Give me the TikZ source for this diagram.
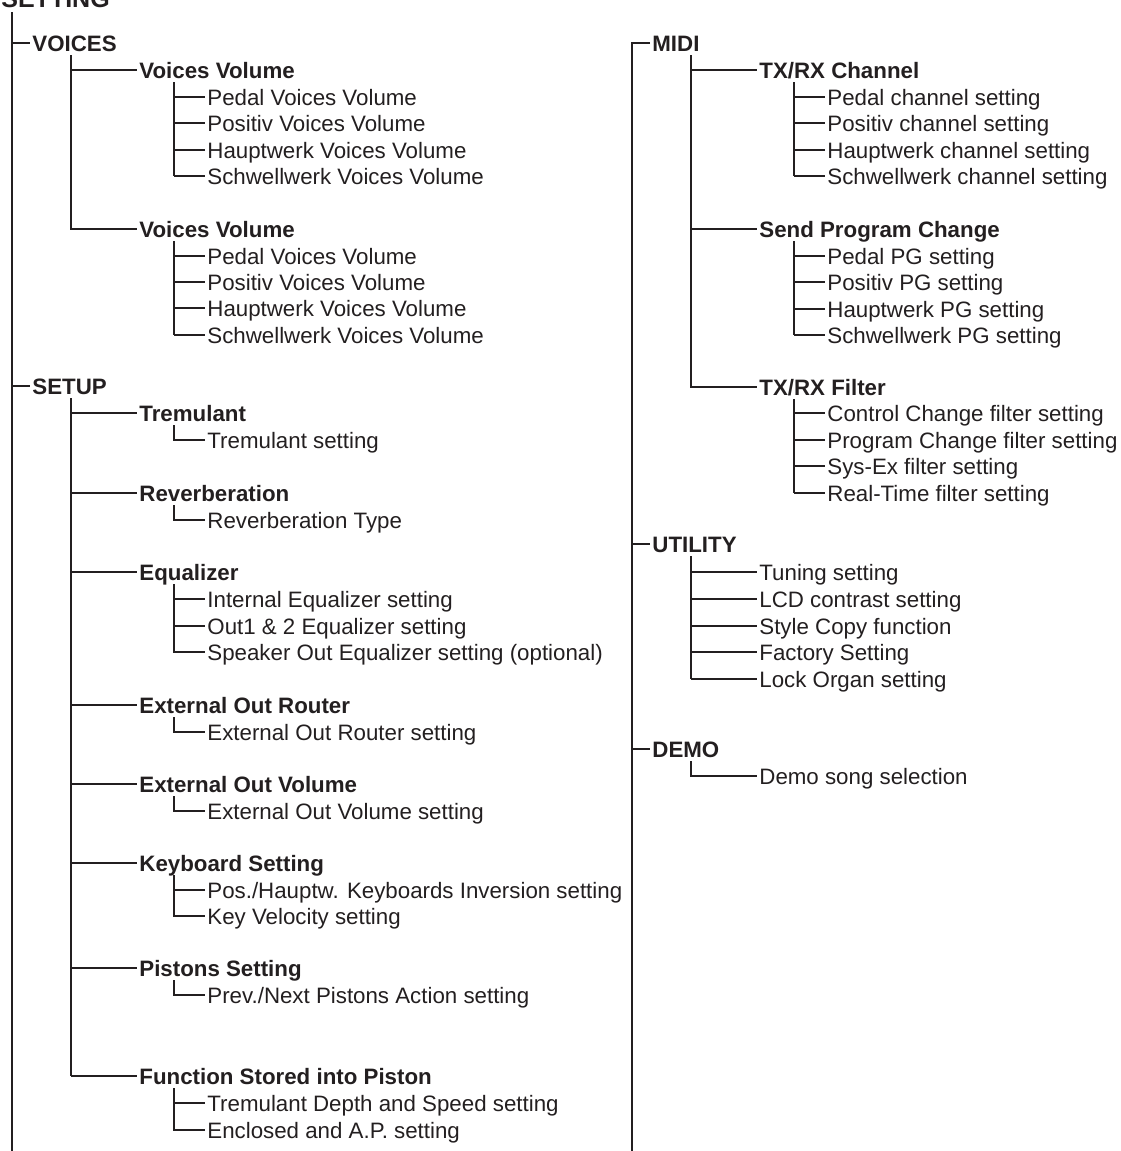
\documentclass[tikz,border=0pt]{standalone}
\usepackage{fontspec}
\setmainfont{Liberation Sans}
\usepackage{xcolor}
\definecolor{ink}{HTML}{231F20}

\begin{document}
\begin{tikzpicture}[x=0.5pt,y=-0.5pt,
  line/.style={draw=ink,line width=0.75pt},
  item/.style={anchor=base west,inner xsep=1pt,inner ysep=0pt,text height=7.95pt,text depth=0pt,text=ink,font=\fontsize{11.15}{13}\selectfont},
  head/.style={item,font=\fontsize{11.15}{13}\selectfont\bfseries}]
\useasboundingbox (0,0) rectangle (1120,1151);
\clip (0,0) rectangle (1120,1151);

% left column
\node[head,font=\fontsize{12.5}{15}\selectfont\bfseries] (setting) at (-1,8) {SETTING};
\coordinate (ltop) at (12,12);
\coordinate (lbot) at (12,1151);
\draw[line] (ltop) -- (lbot);

\node[head] (voices) at (30,51) {VOICES};
\draw[line] (voices.west -| ltop) -- (voices.west);
\coordinate (voicesx) at ([xshift=20.5pt,yshift=-2pt]voices.south west);
\node[head] (vol1) at (137,78) {Voices Volume};
\node[head] (vol2) at (137,237) {Voices Volume};
\draw[line] (voicesx |- vol1.west) -- (vol1.west);
\draw[line] (voicesx) |- (vol2.west);

\coordinate (vol1x) at ([xshift=18.5pt,yshift=-2pt]vol1.south west);
\foreach \y/\n/\t in {105/vol1a/{Pedal Voices Volume},131/vol1b/{Positiv Voices Volume},158/vol1c/{Hauptwerk Voices Volume},184/vol1d/{Schwellwerk Voices Volume}}{
  \node[item] (\n) at (205,\y) {\t};
  \draw[line] (vol1x |- \n.west) -- (\n.west);
}
\draw[line] (vol1x) -- (vol1x |- vol1d.west);

\coordinate (vol2x) at ([xshift=18.5pt,yshift=-2pt]vol2.south west);
\foreach \y/\n/\t in {264/vol2a/{Pedal Voices Volume},290/vol2b/{Positiv Voices Volume},316/vol2c/{Hauptwerk Voices Volume},343/vol2d/{Schwellwerk Voices Volume}}{
  \node[item] (\n) at (205,\y) {\t};
  \draw[line] (vol2x |- \n.west) -- (\n.west);
}
\draw[line] (vol2x) -- (vol2x |- vol2d.west);

\node[head] (setup) at (30,394) {SETUP};
\draw[line] (setup.west -| ltop) -- (setup.west);
\coordinate (setupx) at ([xshift=20.5pt,yshift=-2pt]setup.south west);
\foreach \y/\n/\t in {421/trem/{Tremulant},501/reverb/{Reverberation},580/equal/{Equalizer},713/router/{External Out Router},792/extvol/{External Out Volume},871/keyb/{Keyboard Setting},976/pist/{Pistons Setting},1084/func/{Function Stored into Piston}}{
  \node[head] (\n) at (137,\y) {\t};
  \draw[line] (setupx |- \n.west) -- (\n.west);
}
\draw[line] (setupx) -- (setupx |- func.west);

\node[item] (tremset) at (205,448) {Tremulant setting};
\draw[line] ([xshift=18.5pt,yshift=-2pt]trem.south west) |- (tremset.west);
\node[item] (revtype) at (205,528) {Reverberation Type};
\draw[line] ([xshift=18.5pt,yshift=-2pt]reverb.south west) |- (revtype.west);

\coordinate (equalx) at ([xshift=18.5pt,yshift=-2pt]equal.south west);
\node[item] (eqa) at (205,607) {Internal Equalizer setting};
\node[item] (eqb) at (205,634) {Out1 \& 2 Equalizer setting};
\node[item] (eqc) at (205,660) {Speaker Out Equalizer setting (optional)};
\draw[line] (equalx |- eqa.west) -- (eqa.west);
\draw[line] (equalx |- eqb.west) -- (eqb.west);
\draw[line] (equalx) |- (eqc.west);

\node[item] (routerset) at (205,740) {External Out Router setting};
\draw[line] ([xshift=18.5pt,yshift=-2pt]router.south west) |- (routerset.west);
\node[item] (extvolset) at (205,819) {External Out Volume setting};
\draw[line] ([xshift=18.5pt,yshift=-2pt]extvol.south west) |- (extvolset.west);

\coordinate (keybx) at ([xshift=18.5pt,yshift=-2pt]keyb.south west);
\node[item] (keyba) at (205,898) {Pos./Hauptw. Keyboards Inversion setting};
\node[item] (keybb) at (205,924) {Key Velocity setting};
\draw[line] (keybx |- keyba.west) -- (keyba.west);
\draw[line] (keybx) |- (keybb.west);

\node[item] (pistset) at (205,1003) {Prev./Next Pistons Action setting};
\draw[line] ([xshift=18.5pt,yshift=-2pt]pist.south west) |- (pistset.west);

\coordinate (funcx) at ([xshift=18.5pt,yshift=-2pt]func.south west);
\node[item] (funca) at (205,1111) {Tremulant Depth and Speed setting};
\node[item] (funcb) at (205,1138) {Enclosed and A.P. setting};
\draw[line] (funcx |- funca.west) -- (funca.west);
\draw[line] (funcx) |- (funcb.west);

% right column
\coordinate (rbot) at (632,1151);
\node[head] (midi) at (650,51) {MIDI};
\draw[line] (midi.west) -| (rbot);
\coordinate (midix) at ([xshift=20.5pt,yshift=-2pt]midi.south west);
\node[head] (chan) at (757,78) {TX/RX Channel};
\node[head] (prog) at (757,237) {Send Program Change};
\node[head] (filt) at (757,395) {TX/RX Filter};
\draw[line] (midix |- chan.west) -- (chan.west);
\draw[line] (midix |- prog.west) -- (prog.west);
\draw[line] (midix) |- (filt.west);

\coordinate (chanx) at ([xshift=18.5pt,yshift=-2pt]chan.south west);
\foreach \y/\n/\t in {105/chana/{Pedal channel setting},131/chanb/{Positiv channel setting},158/chanc/{Hauptwerk channel setting},184/chand/{Schwellwerk channel setting}}{
  \node[item] (\n) at (825,\y) {\t};
  \draw[line] (chanx |- \n.west) -- (\n.west);
}
\draw[line] (chanx) -- (chanx |- chand.west);

\coordinate (progx) at ([xshift=18.5pt,yshift=-2pt]prog.south west);
\foreach \y/\n/\t in {264/proga/{Pedal PG setting},290/progb/{Positiv PG setting},317/progc/{Hauptwerk PG setting},343/progd/{Schwellwerk PG setting}}{
  \node[item] (\n) at (825,\y) {\t};
  \draw[line] (progx |- \n.west) -- (\n.west);
}
\draw[line] (progx) -- (progx |- progd.west);

\coordinate (filtx) at ([xshift=18.5pt,yshift=-2pt]filt.south west);
\foreach \y/\n/\t in {421/filta/{Control Change filter setting},448/filtb/{Program Change filter setting},474/filtc/{Sys-Ex filter setting},501/filtd/{Real-Time filter setting}}{
  \node[item] (\n) at (825,\y) {\t};
  \draw[line] (filtx |- \n.west) -- (\n.west);
}
\draw[line] (filtx) -- (filtx |- filtd.west);

\node[head] (util) at (650,552) {UTILITY};
\draw[line] (util.west -| rbot) -- (util.west);
\coordinate (utilx) at ([xshift=20.5pt,yshift=-2pt]util.south west);
\foreach \y/\n/\t in {580/utila/{Tuning setting},607/utilb/{LCD contrast setting},634/utilc/{Style Copy function},660/utild/{Factory Setting},687/utile/{Lock Organ setting}}{
  \node[item] (\n) at (757,\y) {\t};
  \draw[line] (utilx |- \n.west) -- (\n.west);
}
\draw[line] (utilx) -- (utilx |- utile.west);

\node[head] (demo) at (650,757) {DEMO};
\draw[line] (demo.west -| rbot) -- (demo.west);
\node[item] (demosong) at (757,784) {Demo song selection};
\draw[line] ([xshift=20.5pt,yshift=-2pt]demo.south west) |- (demosong.west);
\end{tikzpicture}
\end{document}
